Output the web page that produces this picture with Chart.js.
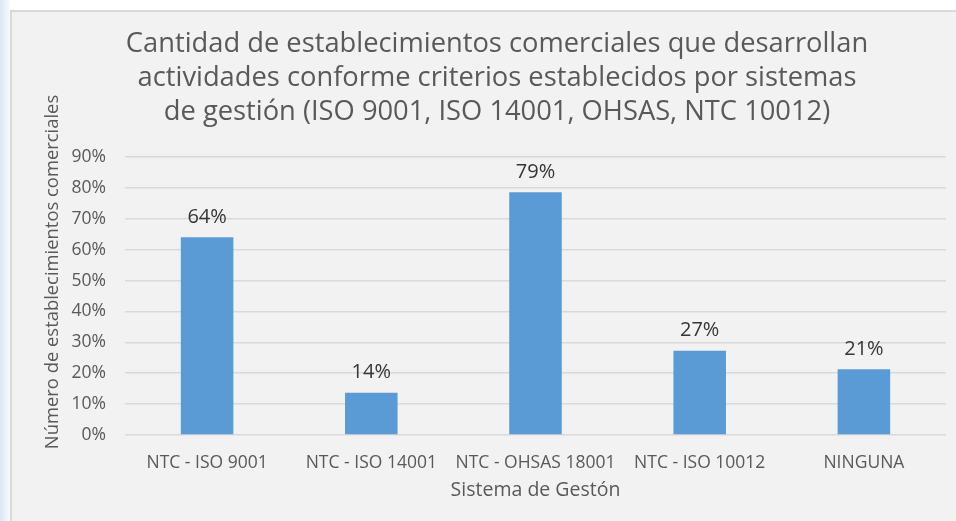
<!DOCTYPE html>
<html>
<head>
<meta charset="utf-8">
<script src="https://cdn.jsdelivr.net/npm/chart.js@4"></script>
<style>
  html, body { margin: 0; padding: 0; overflow: hidden; }
  body {
    width: 956px; height: 521px;
    background: linear-gradient(to right, #dbe7f4 0px, #f4f8fc 9px, #ffffff 10px);
  }
  #frame {
    position: absolute; left: 10px; top: 10px;
    width: 1000px; height: 560px;
    border-left: 2px solid #d9d9d9; border-top: 2px solid #d9d9d9;
    background: #f2f2f2;
  }
  #wrap { position: absolute; left: 0; top: 0; width: 970px; height: 509px; }
</style>
</head>
<body>
<div id="frame"><div id="wrap"><canvas id="canvas"></canvas></div></div>
<script>
// data
let categories = ['NTC - ISO 9001', 'NTC - ISO 14001', 'NTC - OHSAS 18001', 'NTC - ISO 10012', 'NINGUNA'];
let shares = [0.64, 0.137, 0.786, 0.273, 0.213];
let yTickLabels = ['0%', '10%', '20%', '30%', '40%', '50%', '60%', '70%', '80%', '90%'];
let chartTitle = [
  'Cantidad de establecimientos comerciales que desarrollan',
  'actividades conforme criterios establecidos por sistemas',
  'de gestión (ISO 9001, ISO 14001, OHSAS, NTC 10012)'
];
let yTitle = 'Número de establecimientos comerciales';
let xTitle = 'Sistema de Gestón';

let FONT = 'Open Sans';

// percent labels over each bar
let barLabels = {
  id: 'barLabels',
  afterDatasetsDraw(chart) {
    let ctx = chart.ctx;
    ctx.save();
    ctx.font = '20px "' + FONT + '"';
    ctx.fillStyle = '#363636';
    ctx.textAlign = 'center';
    ctx.textBaseline = 'middle';
    chart.getDatasetMeta(0).data.forEach(function(bar, i) {
      ctx.fillText(Math.round(shares[i] * 100) + '%', bar.x, bar.y - 20);
    });
    ctx.restore();
  }
};

// y axis title, centred on the whole chart height like Excel does
let sideTitle = {
  id: 'sideTitle',
  afterDraw(chart) {
    let ctx = chart.ctx;
    ctx.save();
    ctx.font = '18.4px "' + FONT + '"';
    ctx.fillStyle = '#595959';
    ctx.textAlign = 'center';
    ctx.textBaseline = 'middle';
    ctx.translate(41, 260);
    ctx.rotate(-Math.PI / 2);
    ctx.fillText(yTitle, 0, 0);
    ctx.restore();
  }
};

let myChart = document.getElementById('canvas').getContext('2d');

let chart = new Chart(myChart, {
  type: 'bar',
  data: {
    labels: categories,
    datasets: [{
      data: shares,
      backgroundColor: '#5b9bd5',
      barPercentage: 0.32,
      categoryPercentage: 1
    }]
  },
  plugins: [barLabels, sideTitle],
  options: {
    responsive: true,
    maintainAspectRatio: false,
    animation: false,
    layout: { padding: 0 },
    plugins: {
      legend: { display: false },
      tooltip: { enabled: false },
      title: {
        display: true,
        text: chartTitle,
        color: '#595959',
        font: { family: FONT, size: 27.3, weight: 'normal', lineHeight: '34px' },
        padding: { top: 15, bottom: 28 }
      }
    },
    scales: {
      x: {
        grid: { display: false },
        border: { display: false },
        ticks: {
          color: '#595959',
          font: { family: FONT, size: 17.5 },
          padding: 10,
          maxRotation: 0
        },
        title: {
          display: true,
          text: xTitle,
          color: '#595959',
          font: { family: FONT, size: 19.5 },
          padding: { top: 0, bottom: 19 }
        },
        afterFit: function(s) { s.height = 86; }
      },
      y: {
        min: 0,
        max: 0.9,
        grid: { color: '#d9d9d9', lineWidth: 1.5, drawTicks: false },
        border: { display: false },
        ticks: {
          stepSize: 0.1,
          color: '#595959',
          font: { family: FONT, size: 17.5 },
          padding: 19,
          callback: function(v, i) { return yTickLabels[i]; }
        },
        afterFit: function(s) { s.width = 113; }
      },
      // empty axis that only reserves the space on the right
      yRight: {
        position: 'right',
        grid: { display: false },
        border: { display: false },
        ticks: { display: false },
        afterFit: function(s) { s.width = 36; }
      }
    }
  }
});
</script>
</body>
</html>
